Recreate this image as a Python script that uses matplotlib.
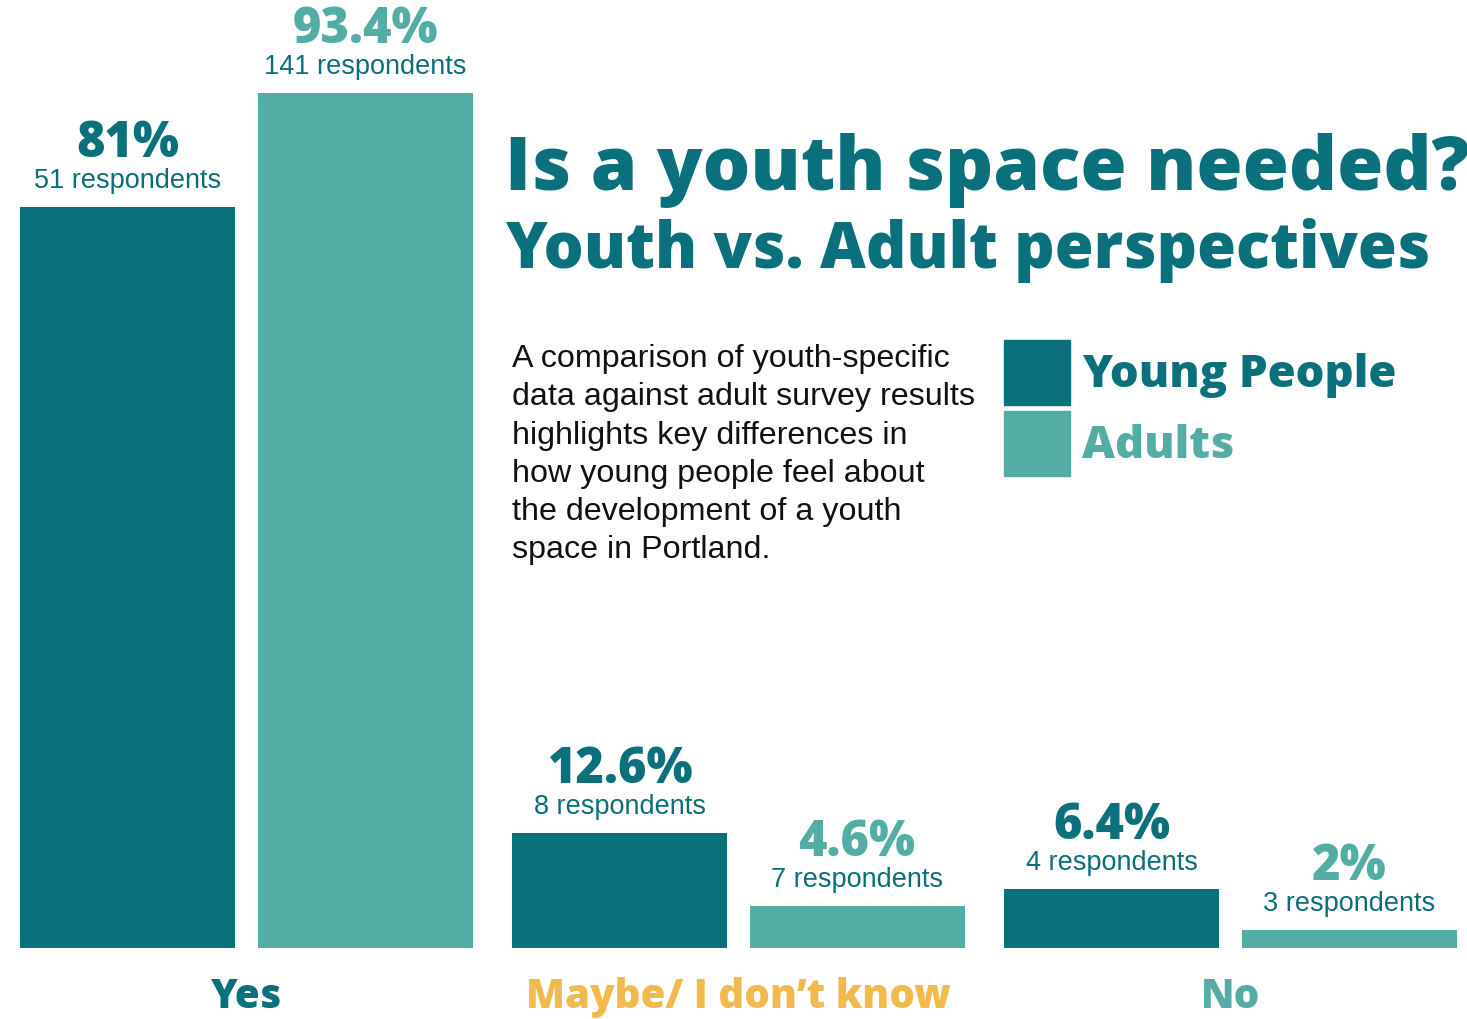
import matplotlib
matplotlib.use('Agg')
import matplotlib.pyplot as plt
import numpy as np

# survey results: share of respondents per answer
categories = ['Yes', 'Maybe/ I don\u2019t know', 'No']
youth_pct = [81, 12.6, 6.4]
adult_pct = [93.4, 4.6, 2]
youth_n = [51, 8, 4]
adult_n = [141, 7, 3]

DARK = '#0A717C'
LIGHT = '#53ADA4'
YELLOW = '#F2BA4C'
cat_colors = [DARK, YELLOW, LIGHT]

HEAD = 'Open Sans'
BODY = 'Liberation Sans'

W, H = 1467, 1019
fig = plt.figure(figsize=(W / 100, H / 100), dpi=100)
ax = fig.add_axes([0, 71 / H, 1, 1 - 71 / H])

px_per_pct = 855 / 93.4
ax.set_ylim(0, 948 / px_per_pct)
ax.set_xlim(-246.5 / 492, (W - 246.5) / 492)
ax.axis('off')

idx = np.arange(len(categories))
bw = 0.437
off = bw / 2 + 0.0225

b1 = ax.bar(idx - off, youth_pct, bw, color=DARK)
b2 = ax.bar(idx + off, adult_pct, bw, color=LIGHT)

def label_bars(bars, pcts, counts, color):
    for rect, p, n in zip(bars, pcts, counts):
        x = rect.get_x() + rect.get_width() / 2
        top = rect.get_height()
        ax.annotate('{0:g}%'.format(p), (x, top), xytext=(0, 50),
                    textcoords='offset pixels', ha='center', va='baseline',
                    fontsize=35, fontweight=800, family=HEAD, color=color)
        ax.annotate('{0} respondents'.format(n), (x, top), xytext=(0, 26),
                    textcoords='offset pixels', ha='center', va='center',
                    fontsize=19.5, family=BODY, color='#0B6E79')

label_bars(b1, youth_pct, youth_n, DARK)
label_bars(b2, adult_pct, adult_n, LIGHT)

for i, (c, col) in enumerate(zip(categories, cat_colors)):
    ax.annotate(c, (i, 0), xytext=(0, -50), textcoords='offset pixels',
                ha='center', va='center', fontsize=29, fontweight=800,
                family=HEAD, color=col)

# heading
fig.text(505 / W, 1 - 190 / H, 'Is a youth space needed?', ha='left',
         va='baseline', fontsize=54, fontweight=800, family=HEAD, color=DARK)
fig.text(505 / W, 1 - 268 / H, 'Youth vs. Adult perspectives', ha='left',
         va='baseline', fontsize=45.4, fontweight=800, family=HEAD, color=DARK)

desc = ('A comparison of youth-specific\n'
        'data against adult survey results\n'
        'highlights key differences in\n'
        'how young people feel about\n'
        'the development of a youth\n'
        'space in Portland.')
fig.text(512 / W, 1 - 344 / H, desc, ha='left', va='top', fontsize=23.2,
         family=BODY, color='#111111', linespacing=1.36)

# legend
for y0, col, name in [(340, DARK, 'Young People'), (411, LIGHT, 'Adults')]:
    fig.patches.append(plt.Rectangle((1004 / W, 1 - (y0 + 65) / H), 66 / W, 65 / H,
                                     transform=fig.transFigure, color=col))
    fig.text(1082 / W, 1 - (y0 + 47) / H, name, ha='left', va='baseline',
             fontsize=32.7, fontweight=800, family=HEAD, color=col)

fig.savefig('out.png', dpi=100, facecolor='white')
